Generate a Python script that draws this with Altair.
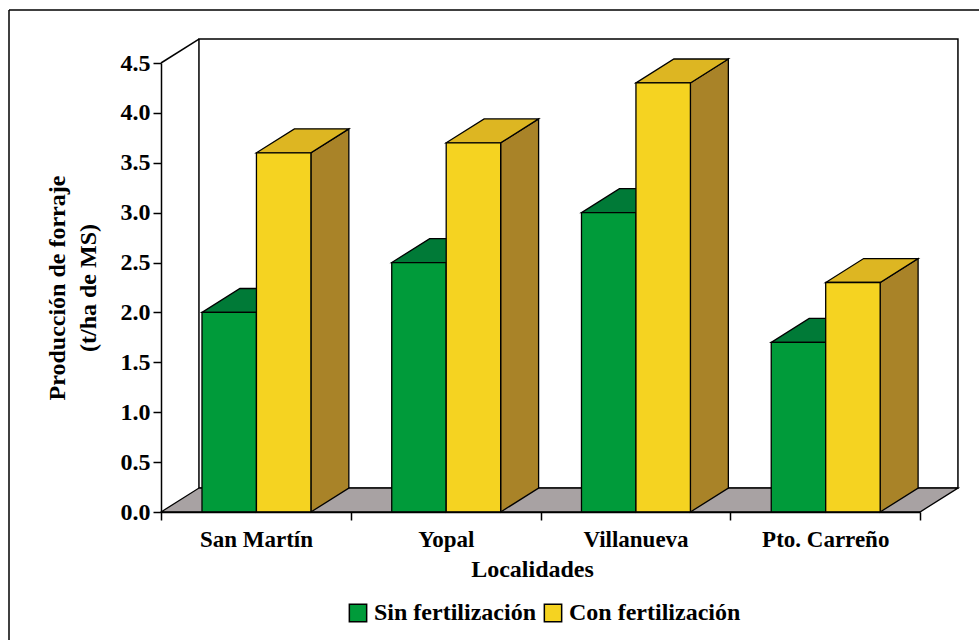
import altair as alt
import pandas as pd

# ---- data ----
localidades = ["San Martín", "Yopal", "Villanueva", "Pto. Carreño"]
series = ["Sin fertilización", "Con fertilización"]
sin_fert = [2.0, 2.5, 3.0, 1.7]
con_fert = [3.6, 3.7, 4.3, 2.3]
y_ticks = [0.0, 0.5, 1.0, 1.5, 2.0, 2.5, 3.0, 3.5, 4.0, 4.5]

# ---- 3D geometry (style constants) ----
DX = 0.2      # depth along x (category units)
DY = 0.24     # depth along y (value units)
OFF = 0.216   # first bar offset inside a category band
BW = 0.287    # bar width (category units)
NCAT = len(localidades)

GREEN = "#009B3A"; GREEN_TOP = "#007A37"; GREEN_SIDE = "#005C2A"
YEL = "#F5D321"; YEL_TOP = "#DDB622"; YEL_SIDE = "#A98328"
FLOOR = "#A8A2A3"
FONT = "Liberation Serif"


def parallelogram_top(x0, x1, y, dx, dy):
    """Top face as a vertical area: list of (x, lower, upper)."""
    return [(x0, y, y), (x0 + dx, y, y + dy), (x1, y, y + dy), (x1 + dx, y + dy, y + dy)]


front, top, side = [], [], []
for i, cat in enumerate(localidades):
    for j, (s, vals) in enumerate(zip(series, [sin_fert, con_fert])):
        v = vals[i]
        x0 = i + OFF + j * BW
        x1 = x0 + BW
        bid = f"b{i}{j}"
        front.append(dict(serie=s, cat=cat, x0=x0, x1=x1, y0=0.0, v=v))
        for (px, lo, hi) in parallelogram_top(x0, x1, v, DX, DY):
            top.append(dict(serie=s, id=bid, x=px, lo=lo, hi=hi))
        side.append(dict(serie=s, id=bid, x=x1, lo=0.0, hi=v))
        side.append(dict(serie=s, id=bid, x=x1 + DX, lo=DY, hi=v + DY))
front = pd.DataFrame(front); top = pd.DataFrame(top); side = pd.DataFrame(side)

xs = alt.Scale(domain=[0, NCAT], nice=False, zero=False)
ys = alt.Scale(domain=[0, y_ticks[-1]], nice=False, zero=False)

label_expr = " : ".join(
    [f"datum.value == {i} ? '{c}'" for i, c in enumerate(localidades)]) + " : ''"

x_axis = alt.Axis(values=list(range(NCAT + 1)), labelExpr=label_expr, labelOffset=95,
                  labelFlush=False, labelOverlap=False, labelBound=False,
                  tickSize=8, tickColor="black", tickWidth=1.5,
                  domainColor="black", domainWidth=1.5, grid=False,
                  labelFont=FONT, labelFontSize=23, labelFontWeight="bold", labelColor="black",
                  labelPadding=8, title="Localidades", titleFont=FONT, titleFontSize=24,
                  titleFontWeight="bold", titleColor="black", titlePadding=6,
                  titleX=371, titleAlign="center", zindex=1)
y_axis = alt.Axis(values=y_ticks, format=".1f", tickSize=8, tickColor="black", tickWidth=1.5,
                  domainColor="black", domainWidth=1.5, grid=False,
                  labelFont=FONT, labelFontSize=24, labelFontWeight="bold", labelColor="black",
                  labelPadding=3, title=["Producción de forraje", "(t/ha de MS)"],
                  titleFont=FONT, titleFontSize=24, titleFontWeight="bold", titleColor="black",
                  titleLineHeight=31, titlePadding=20, zindex=1)

# back wall
wall_df = pd.DataFrame([dict(x0=DX, x1=NCAT + DX, y0=DY, y1=y_ticks[-1] + DY)])
wall = alt.Chart(wall_df).mark_rect(fill="white", stroke="black", strokeWidth=1.5).encode(
    x=alt.X("x0:Q", scale=xs, axis=x_axis), x2="x1", y=alt.Y("y0:Q", scale=ys, axis=y_axis), y2="y1")

# floor (parallelogram as a vertical area)
floor_df = pd.DataFrame([dict(x=px, lo=lo, hi=hi)
                         for (px, lo, hi) in parallelogram_top(0.0, float(NCAT), 0.0, DX, DY)])
floor = alt.Chart(floor_df).mark_area(fill=FLOOR, stroke="black", strokeWidth=1.3,
                                      opacity=1, interpolate="linear").encode(
    x=alt.X("x:Q", scale=xs), y=alt.Y("lo:Q", scale=ys), y2="hi")

# left wall top edge
diag_df = pd.DataFrame([dict(x0=0.0, x1=DX, y0=y_ticks[-1], y1=y_ticks[-1] + DY)])
diag = alt.Chart(diag_df).mark_rule(color="black", strokeWidth=1.5).encode(
    x=alt.X("x0:Q", scale=xs), x2="x1", y=alt.Y("y0:Q", scale=ys), y2="y1")

color_scale = alt.Scale(domain=series, range=[GREEN, YEL])
legend = alt.Legend(title=None, orient="none", direction="horizontal", legendX=185, legendY=538,
                    symbolType="square", symbolSize=300, symbolStrokeColor="black",
                    symbolStrokeWidth=1.5, labelFont=FONT, labelFontSize=24,
                    labelFontWeight="bold", labelColor="black", labelOffset=4,
                    columnPadding=5, labelLimit=400)


def bar_layers(s, top_c, side_c):
    sd = alt.Chart(side[side.serie == s]).mark_area(
        fill=side_c, stroke="black", strokeWidth=1.3, opacity=1, interpolate="linear").encode(
        x=alt.X("x:Q", scale=xs), y=alt.Y("lo:Q", scale=ys), y2="hi", detail="id:N")
    tp = alt.Chart(top[top.serie == s]).mark_area(
        fill=top_c, stroke="black", strokeWidth=1.3, opacity=1, interpolate="linear").encode(
        x=alt.X("x:Q", scale=xs), y=alt.Y("lo:Q", scale=ys), y2="hi", detail="id:N")
    fr = alt.Chart(front[front.serie == s]).mark_rect(stroke="black", strokeWidth=1.3, opacity=1).encode(
        x=alt.X("x0:Q", scale=xs), x2="x1", y=alt.Y("y0:Q", scale=ys), y2="v",
        color=alt.Color("serie:N", scale=color_scale, legend=legend))
    return [sd, tp, fr]


# outer frame (top and left edges)
frame_top = alt.Chart(pd.DataFrame([{"a": 0}])).mark_rule(color="black", strokeWidth=1.5).encode(
    x=alt.value(-152), x2=alt.value(900), y=alt.value(-53))
frame_left = alt.Chart(pd.DataFrame([{"a": 0}])).mark_rule(color="black", strokeWidth=1.5).encode(
    x=alt.value(-152), y=alt.value(-53), y2=alt.value(700))

layers = [wall, floor, diag] + bar_layers(series[0], GREEN_TOP, GREEN_SIDE) + \
    bar_layers(series[1], YEL_TOP, YEL_SIDE) + [frame_top, frame_left]

chart = alt.layer(*layers).properties(
    width=759, height=449,
    autosize=alt.AutoSizeParams(type="none"),
    padding={"left": 161, "top": 63, "right": 59, "bottom": 128},
    background="white",
).configure_view(strokeWidth=0)

chart.save("out.html", embed_options={"renderer": "svg", "actions": False})
